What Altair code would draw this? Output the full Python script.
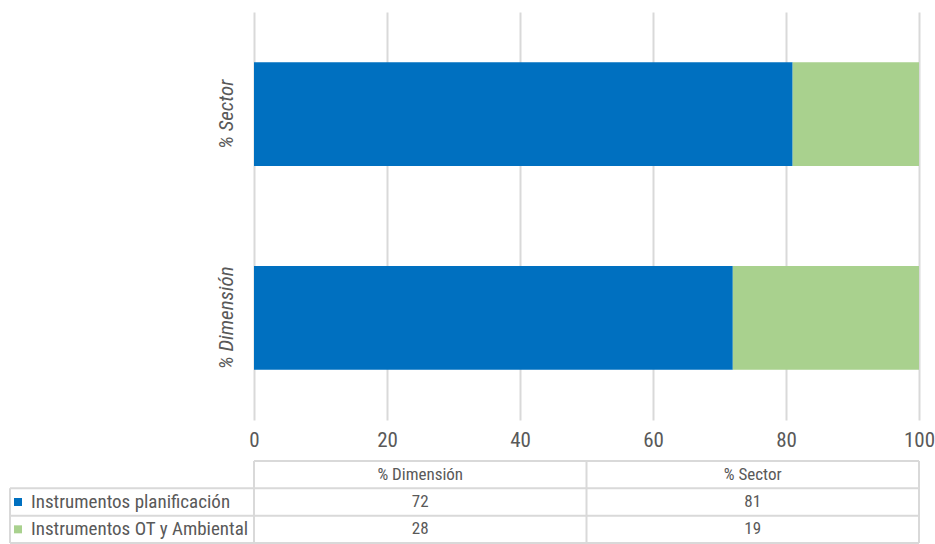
import altair as alt
import pandas as pd

categories = ["% Dimensión", "% Sector"]
series = ["Instrumentos planificación", "Instrumentos OT y Ambiental"]
planificacion = [72, 81]
ot_ambiental = [28, 19]
x_ticks = [0, 20, 40, 60, 80, 100]
colors = ["#0070C0", "#A9D18E"]

FONT = "Liberation Sans Narrow, Arial Narrow, Roboto Condensed, DejaVu Sans Condensed, sans-serif"
TXT = "#595959"
GRID = "#d9d9d9"
W, H = 665, 408
PX = W / 100.0
LEFT_EDGE = -244 / PX      # left border of the table
KEY_X = -236 / PX          # legend key position
LABEL_X = -223 / PX        # row label start

series_values = [planificacion, ot_ambiental]

rows = []
for s_i, (name, vals) in enumerate(zip(series, series_values)):
    for c_i, cat in enumerate(categories):
        rows.append({"cat": cat, "series": name, "order": s_i, "value": vals[c_i]})
bars_df = pd.DataFrame(rows)


def xs():
    return alt.Scale(domain=[0, 100], nice=False, zero=False)


def ys():
    return alt.Scale(domain=[0, 3], range=[449, 531], nice=False, zero=False)


color_scale = alt.Scale(domain=series, range=colors)

bars = alt.Chart(bars_df).mark_bar().encode(
    x=alt.X(
        "value:Q", stack="zero", scale=xs(), title=None,
        axis=alt.Axis(values=x_ticks, grid=True, gridColor=GRID, gridWidth=2,
                      domain=False, ticks=False, labelFontSize=21, labelColor=TXT,
                      labelFont=FONT, labelPadding=9, labelFlush=False, title=None),
    ),
    y=alt.Y(
        "cat:N", sort=categories[::-1], title=None,
        scale=alt.Scale(paddingInner=0.49, paddingOuter=0.247),
        axis=alt.Axis(title=None, domain=False, ticks=False, labelAngle=270,
                      labelAlign="center", labelBaseline="bottom", labelPadding=18,
                      labelFontSize=21, labelFontStyle="italic", labelColor=TXT,
                      labelFont=FONT),
    ),
    color=alt.Color("series:N", scale=color_scale, legend=None),
    order=alt.Order("order:Q"),
)

# table grid
ncol = len(categories)
nrow = len(series) + 1
col_w = 100.0 / ncol
rule_rows = []
for r in range(nrow + 1):
    rule_rows.append({"x": 0.0 if r == 0 else LEFT_EDGE, "x2": 100.0, "y": r, "y2": r})
for c in range(ncol + 1):
    rule_rows.append({"x": c * col_w, "x2": c * col_w, "y": 0, "y2": nrow})
rule_rows.append({"x": LEFT_EDGE, "x2": LEFT_EDGE, "y": 1, "y2": nrow})
rules_df = pd.DataFrame(rule_rows)

table_rules = alt.Chart(rules_df).mark_rule(color=GRID, strokeWidth=2).encode(
    x=alt.X("x:Q", scale=xs(), title=None),
    x2="x2:Q",
    y=alt.Y("y:Q", scale=ys(), axis=None),
    y2="y2:Q",
)

cell_rows = []
for c_i, cat in enumerate(categories):
    cell_rows.append({"x": (c_i + 0.5) * col_w, "row": 0.5, "label": cat})
for s_i, vals in enumerate(series_values):
    for c_i in range(ncol):
        cell_rows.append({"x": (c_i + 0.5) * col_w, "row": s_i + 1.5, "label": str(vals[c_i])})
cells_df = pd.DataFrame(cell_rows)

cells = alt.Chart(cells_df).mark_text(font=FONT, fontSize=17, color=TXT, baseline="middle").encode(
    x=alt.X("x:Q", scale=xs(), title=None),
    y=alt.Y("row:Q", scale=ys(), axis=None),
    text="label:N",
)

legend_df = pd.DataFrame({
    "series": series,
    "row": [i + 1.5 for i in range(len(series))],
    "kx": [KEY_X] * len(series),
    "lx": [LABEL_X] * len(series),
})

keys = alt.Chart(legend_df).mark_square(size=64, opacity=1).encode(
    x=alt.X("kx:Q", scale=xs(), title=None),
    y=alt.Y("row:Q", scale=ys(), axis=None),
    color=alt.Color("series:N", scale=color_scale, legend=None),
)

key_labels = alt.Chart(legend_df).mark_text(font=FONT, fontSize=19, color=TXT, align="left", baseline="middle").encode(
    x=alt.X("lx:Q", scale=xs(), title=None),
    y=alt.Y("row:Q", scale=ys(), axis=None),
    text="series:N",
)

chart = alt.layer(bars, table_rules, cells, keys, key_labels).resolve_scale(
    y="independent"
).properties(
    width=W, height=H,
    padding={"left": 254, "top": 12, "right": 16, "bottom": 124},
    autosize=alt.AutoSizeParams(type="none"),
    background="white",
).configure_view(stroke=None)

chart.save("out.html", embed_options={"renderer": "svg", "actions": False})
